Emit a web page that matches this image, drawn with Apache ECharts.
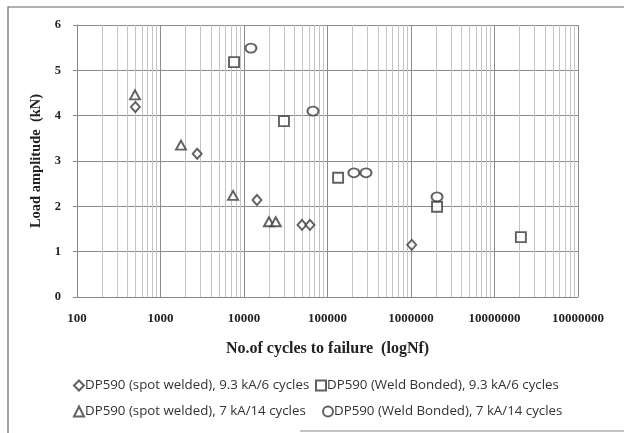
<!DOCTYPE html>
<html>
<head>
<meta charset="utf-8">
<script src="https://cdn.jsdelivr.net/npm/echarts@6/dist/echarts.min.js"></script>
<style>
  html, body { margin: 0; padding: 0; background: #fff; }
  #chart { width: 624px; height: 433px; }
</style>
</head>
<body>
<div id="chart"></div>
<script>
// S-N data: number of cycles to failure vs load amplitude (kN)
const spotWelded93Cycles = [500, 2750, 14300, 49500, 61700, 1020000];
const spotWelded93Load   = [4.19, 3.16, 2.14, 1.59, 1.59, 1.15];

const spotWelded7Cycles = [495, 1760, 7400, 19900, 24000];
const spotWelded7Load   = [4.46, 3.35, 2.24, 1.66, 1.66];

const weldBonded93Cycles = [7600, 30100, 134000, 2050000, 20700000];
const weldBonded93Load   = [5.18, 3.88, 2.63, 1.99, 1.32];

const weldBonded7Cycles = [12100, 67000, 207000, 289000, 2050000];
const weldBonded7Load   = [5.49, 4.10, 2.74, 2.74, 2.21];

const seriesNames = [
  'DP590 (spot welded), 9.3 kA/6 cycles',
  'DP590 (Weld Bonded), 9.3 kA/6 cycles',
  'DP590 (spot welded), 7 kA/14 cycles',
  'DP590 (Weld Bonded), 7 kA/14 cycles'
];

const xTickLabels = ['100', '1000', '10000', '100000', '1000000', '10000000', '10000000'];
const yTickLabels = ['0', '1', '2', '3', '4', '5', '6'];

function pairs(xs, ys) { return xs.map((x, i) => [x, ys[i]]); }

// minor vertical grid lines (2..9 x 10^k) for the log axis
const minorGrid = [];
for (let k = 2; k < 8; k++) {
  for (let m = 2; m <= 9; m++) minorGrid.push({ xAxis: m * Math.pow(10, k) });
}

const ink = '#3a3a3a';
const serif = '"Liberation Serif", "DejaVu Serif", serif';
const sans = '"Open Sans", "Liberation Sans", sans-serif';

function scatter(name, data, symbol, size) {
  return {
    name: name,
    type: 'scatter',
    data: data,
    symbol: symbol,
    symbolSize: size,
    itemStyle: { color: '#fff', borderColor: ink, borderWidth: 1.9 },
    z: 5
  };
}

// one legend entry per slot of the 2x2 legend block
function legendItem(name, left, top) {
  return {
    left: left, top: top,
    itemWidth: 10, itemHeight: 10, padding: 0,
    textStyle: { fontFamily: sans, fontSize: 13.3, color: '#333', padding: [0, 0, 0, -4] },
    data: [name]
  };
}

const chart = echarts.init(document.getElementById('chart'), null, { renderer: 'canvas' });

chart.setOption({
  backgroundColor: '#fff',
  animation: false,
  graphic: [{
    type: 'polyline',
    shape: { points: [[624, 7], [8, 7], [8, 433]] },
    style: { fill: 'none', stroke: '#666', lineWidth: 1.2 },
    silent: true
  }, {
    type: 'line',
    shape: { x1: 300, y1: 431, x2: 624, y2: 431 },
    style: { stroke: '#888', lineWidth: 1.2 },
    silent: true
  }],
  grid: { left: 77, right: 46, top: 25, bottom: 136, containLabel: false },
  legend: [
    legendItem(seriesNames[0], 73, 379),
    legendItem(seriesNames[1], 315, 379),
    legendItem(seriesNames[2], 73, 405),
    legendItem(seriesNames[3], 322, 405)
  ],
  xAxis: {
    type: 'log',
    logBase: 10,
    min: 100,
    max: 100000000,
    name: 'No.of cycles to failure  (logNf)',
    nameLocation: 'middle',
    nameGap: 44,
    nameTextStyle: { fontFamily: serif, fontWeight: 'bold', fontSize: 16, color: '#222' },
    axisLine: { show: true, onZero: false, lineStyle: { color: '#888', width: 1 } },
    axisTick: { show: false },
    axisLabel: {
      margin: 15,
      fontFamily: serif, fontWeight: 'bold', fontSize: 13, color: '#222',
      formatter: function (v) {
        const i = Math.round(Math.log10(v)) - 2;
        return xTickLabels[i] !== undefined ? xTickLabels[i] : '';
      }
    },
    splitLine: { show: true, lineStyle: { color: '#8c8c8c', width: 1 } }
  },
  yAxis: {
    type: 'value',
    min: 0,
    max: 6,
    interval: 1,
    name: 'Load amplitude  (kN)',
    nameLocation: 'middle',
    nameGap: 33,
    nameTextStyle: { fontFamily: serif, fontWeight: 'bold', fontSize: 14.5, color: '#222' },
    axisLine: { show: true, lineStyle: { color: '#888', width: 1 } },
    axisTick: { show: true, length: 4, lineStyle: { color: '#888' } },
    axisLabel: {
      margin: 16,
      fontFamily: serif, fontWeight: 'bold', fontSize: 12.5, color: '#222',
      formatter: function (v) { return yTickLabels[Math.round(v)]; }
    },
    splitLine: { show: true, lineStyle: { color: '#8c8c8c', width: 1 } }
  },
  series: [
    {
      type: 'line',
      data: [],
      silent: true,
      markLine: {
        silent: true,
        symbol: 'none',
        label: { show: false },
        lineStyle: { color: '#c4c4c4', width: 1, type: 'solid' },
        data: minorGrid
      },
      z: 1
    },
    scatter(seriesNames[0], pairs(spotWelded93Cycles, spotWelded93Load), 'diamond', [9, 10]),
    scatter(seriesNames[1], pairs(weldBonded93Cycles, weldBonded93Load), 'rect', 10),
    scatter(seriesNames[2], pairs(spotWelded7Cycles, spotWelded7Load), 'triangle', [10, 9]),
    scatter(seriesNames[3], pairs(weldBonded7Cycles, weldBonded7Load), 'circle', [11, 9])
  ]
});
</script>
</body>
</html>
